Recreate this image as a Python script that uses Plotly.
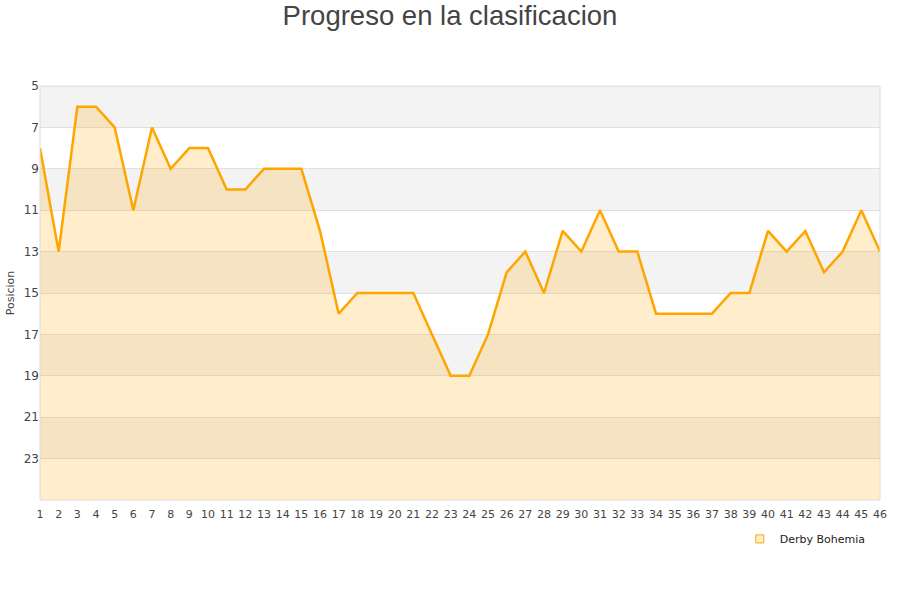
import plotly.graph_objects as go

jornadas = list(range(1, 47))
posiciones = [8, 13, 6, 6, 7, 11, 7, 9, 8, 8, 10, 10, 9, 9, 9, 12, 16, 15, 15, 15,
              15, 17, 19, 19, 17, 14, 13, 15, 12, 13, 11, 13, 13, 16, 16, 16, 16, 15,
              15, 12, 13, 12, 14, 13, 11, 13]
y_ticks = [5, 7, 9, 11, 13, 15, 17, 19, 21, 23]
y_min, y_max = 5, 25
team = "Derby Bohemia"

fig = go.Figure()
fig.add_trace(go.Scatter(x=jornadas, y=[y_max] * len(jornadas), mode="lines",
                         line=dict(width=0), showlegend=False, hoverinfo="skip"))
fig.add_trace(go.Scatter(x=jornadas, y=posiciones, mode="lines", fill="tonexty",
                         fillcolor="rgba(255,165,0,0.2)",
                         line=dict(color="#FFA500", width=2.5), showlegend=False))
fig.add_trace(go.Scatter(x=[None], y=[None], mode="markers", name=team,
                         marker=dict(symbol="square", size=8, color="#ffedcc",
                                     line=dict(color="#FFA500", width=1))))

shapes = []
for i, lo in enumerate(range(y_min, y_max, 2)):
    if i % 2 == 0:
        shapes.append(dict(type="rect", xref="paper", yref="y", x0=0, x1=1,
                           y0=lo, y1=lo + 2, fillcolor="#f3f3f3",
                           line=dict(width=0), layer="below"))
shapes.append(dict(type="rect", xref="paper", yref="paper", x0=0, x1=1, y0=0, y1=1,
                   line=dict(color="#dcdcdc", width=1), layer="above"))

fig.update_layout(
    width=900, height=600,
    margin=dict(l=40, r=20, t=86, b=100),
    paper_bgcolor="white", plot_bgcolor="white",
    font=dict(family="DejaVu Sans, sans-serif", size=11, color="#444"),
    title=dict(text="Progreso en la clasificacion", x=0.5, xanchor="center",
               y=0.975, yanchor="middle",
               font=dict(family="Liberation Sans, Arial, sans-serif", size=27.5, color="#444")),
    shapes=shapes,
    showlegend=True,
    legend=dict(x=0.989, xanchor="right", y=-0.094, yanchor="middle",
                font=dict(size=11, color="#222"), bgcolor="rgba(0,0,0,0)"),
)
fig.update_xaxes(range=[1, 46], tickmode="array", tickvals=jornadas,
                 ticktext=[str(j) for j in jornadas], showgrid=False, zeroline=False,
                 showline=False, ticks="", ticklabelstandoff=6, automargin=False,
                 tickfont=dict(size=11, color="#444"))
fig.update_yaxes(range=[y_max, y_min], tickmode="array", tickvals=y_ticks,
                 showgrid=True, gridcolor="#e0e0e0", gridwidth=1, zeroline=False,
                 showline=False, ticks="", automargin=False,
                 title=dict(text="Posicion", standoff=6, font=dict(size=11, color="#444")),
                 tickfont=dict(size=12, color="#444"))

fig.write_html("out.html", config={"displayModeBar": False},
               post_script="document.body.style.margin='0';document.body.style.padding='0';")
